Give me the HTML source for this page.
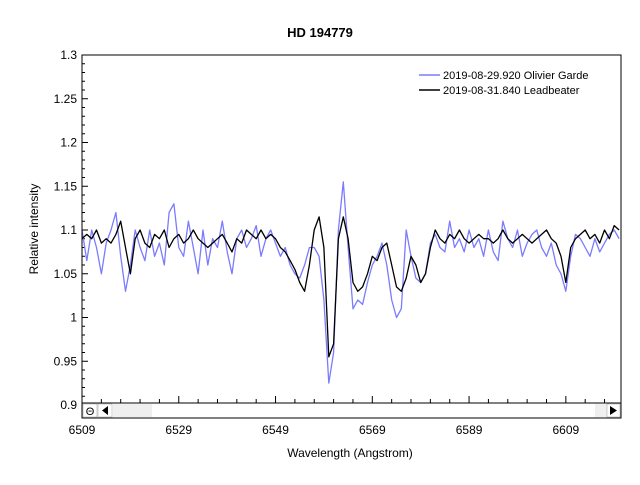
<!DOCTYPE html>
<html><head><meta charset="utf-8"><style>
body{margin:0;background:#fff;font-family:"Liberation Sans",sans-serif;}
svg text{font-family:"Liberation Sans",sans-serif;}
</style></head><body>
<svg id="chart" width="640" height="480" viewBox="0 0 640 480">
<text x="320" y="37" text-anchor="middle" font-size="13" font-weight="bold">HD 194779</text>
<text transform="translate(38,229) rotate(-90)" text-anchor="middle" font-size="12">Relative intensity</text>
<text x="350" y="457" text-anchor="middle" font-size="12">Wavelength (Angstrom)</text>
<g id="yaxis"></g>
<g id="xaxis"></g>
<g id="series"></g>
<rect x="82" y="55" width="539" height="363" fill="none" stroke="#000" stroke-width="1"/>
<g>
<rect x="82" y="403" width="539" height="15" fill="#fff" stroke="#000"/>
<rect x="83" y="404" width="14" height="13" fill="#fff" stroke="#999" stroke-width="0.5"/>
<text x="90" y="415" text-anchor="middle" font-size="11">Θ</text>
<rect x="98" y="404" width="14" height="13" fill="#fff" stroke="#999" stroke-width="0.5"/>
<polygon points="108,406 108,415 102,410.5" fill="#000"/>
<rect x="113" y="404" width="39" height="13" fill="#efefef"/>
<rect x="595" y="404" width="12" height="13" fill="#efefef"/>
<rect x="607" y="404" width="13" height="13" fill="#fff" stroke="#999" stroke-width="0.5"/>
<polygon points="610,406 610,415 617,410.5" fill="#000"/>
</g>
<g>
<g>
<line x1="419" y1="75" x2="440" y2="75" stroke="#7b7bff" stroke-width="1.5"/>
<text x="443" y="79" font-size="11">2019-08-29.920  Olivier Garde</text></g>
<g>
<line x1="419" y1="90" x2="440" y2="90" stroke="#000" stroke-width="1.5"/>
<text x="443" y="94" font-size="11">2019-08-31.840  Leadbeater</text></g>
</g>
</svg>
<script>
const startWl = 6509;
const stepWl = 1;
const yTicks = [1.3,1.25,1.2,1.15,1.1,1.05,1,0.95,0.9];
const yTickLabels = ["1.3","1.25","1.2","1.15","1.1","1.05","1","0.95","0.9"];
const xTicks = [6509,6529,6549,6569,6589,6609];
const xTickLabels = ["6509","6529","6549","6569","6589","6609"];
const leadbeater = [
1.09,1.095,1.09,1.10,1.085,1.09,1.085,1.095,1.11,1.08,
1.05,1.09,1.10,1.085,1.08,1.095,1.09,1.10,1.08,1.09,
1.095,1.085,1.09,1.10,1.09,1.085,1.08,1.085,1.09,1.095,
1.085,1.075,1.09,1.085,1.10,1.095,1.09,1.10,1.09,1.095,
1.09,1.08,1.075,1.065,1.055,1.04,1.03,1.06,1.10,1.115,
1.08,0.955,0.97,1.09,1.115,1.09,1.04,1.03,1.035,1.05,
1.07,1.065,1.08,1.085,1.06,1.035,1.03,1.045,1.07,1.06,
1.04,1.05,1.08,1.10,1.09,1.085,1.095,1.09,1.10,1.09,
1.085,1.09,1.095,1.09,1.09,1.085,1.09,1.10,1.09,1.085,
1.09,1.095,1.09,1.085,1.09,1.095,1.10,1.09,1.085,1.07,
1.04,1.08,1.09,1.095,1.10,1.09,1.095,1.085,1.10,1.09,
1.105,1.10];
const garde = [
1.10,1.065,1.10,1.08,1.05,1.085,1.10,1.12,1.07,1.03,
1.06,1.10,1.08,1.065,1.10,1.07,1.085,1.06,1.12,1.13,
1.08,1.07,1.11,1.08,1.05,1.10,1.06,1.09,1.08,1.11,
1.075,1.05,1.09,1.10,1.08,1.09,1.105,1.07,1.09,1.10,
1.085,1.07,1.08,1.06,1.05,1.045,1.06,1.08,1.08,1.07,
1.02,0.925,0.96,1.10,1.155,1.08,1.01,1.02,1.015,1.04,
1.06,1.07,1.085,1.06,1.02,1.00,1.01,1.10,1.07,1.045,
1.04,1.05,1.085,1.095,1.08,1.075,1.11,1.08,1.09,1.075,
1.10,1.08,1.09,1.07,1.10,1.075,1.065,1.11,1.09,1.08,
1.10,1.07,1.085,1.095,1.10,1.08,1.07,1.085,1.06,1.05,
1.03,1.07,1.095,1.09,1.08,1.07,1.09,1.075,1.085,1.095,
1.10,1.09];
const NS="http://www.w3.org/2000/svg";
const X0=82,X1=621,WL0=6509,WL1=6620.4,Y0=55,Y1=405,V0=1.3,V1=0.9;
function xs(w){return X0+(w-WL0)/(WL1-WL0)*(X1-X0);}
function ys(v){return Y0+(V0-v)/(V0-V1)*(Y1-Y0);}
function mk(tag,attrs,parent){const e=document.createElementNS(NS,tag);for(const k in attrs)e.setAttribute(k,attrs[k]);parent.appendChild(e);return e;}
const ya=document.getElementById('yaxis');
for(let v=0.9;v<=1.3001;v+=0.01){const y=ys(v);const major=Math.abs(v*20-Math.round(v*20))<1e-6;
 const t=mk('line',{x1:X0,x2:X0+(major?6:3),y1:y,y2:y,stroke:'#000'},ya);
 
 }
yTicks.forEach((v,i)=>{const t=mk('text',{x:77,y:ys(v)+4,'text-anchor':'end','font-size':'12'},ya);t.textContent=yTickLabels[i];
 
 });
const xa=document.getElementById('xaxis');
for(let w=6509;w<=6620;w+=4){const x=xs(w);const major=(w-6509)%20===0;
 const t=mk('line',{x1:x,x2:x,y1:403,y2:403-(major?7:4),stroke:'#000'},xa);
 
 }
xTicks.forEach((w,i)=>{const t=mk('text',{x:xs(w),y:434,'text-anchor':'middle','font-size':'12'},xa);t.textContent=xTickLabels[i];
 
 });
const sg=document.getElementById('series');
function path(arr,col,name){const d=arr.map((v,i)=>(i?'L':'M')+xs(startWl+i*stepWl).toFixed(1)+','+ys(v).toFixed(1)).join('');
 const p=mk('path',{d:d,fill:'none',stroke:col,'stroke-width':'1.3','stroke-linejoin':'round'},sg);
 
 }
path(garde,'#7b7bff','series-garde');
path(leadbeater,'#000','series-leadbeater');
</script>
</body></html>
